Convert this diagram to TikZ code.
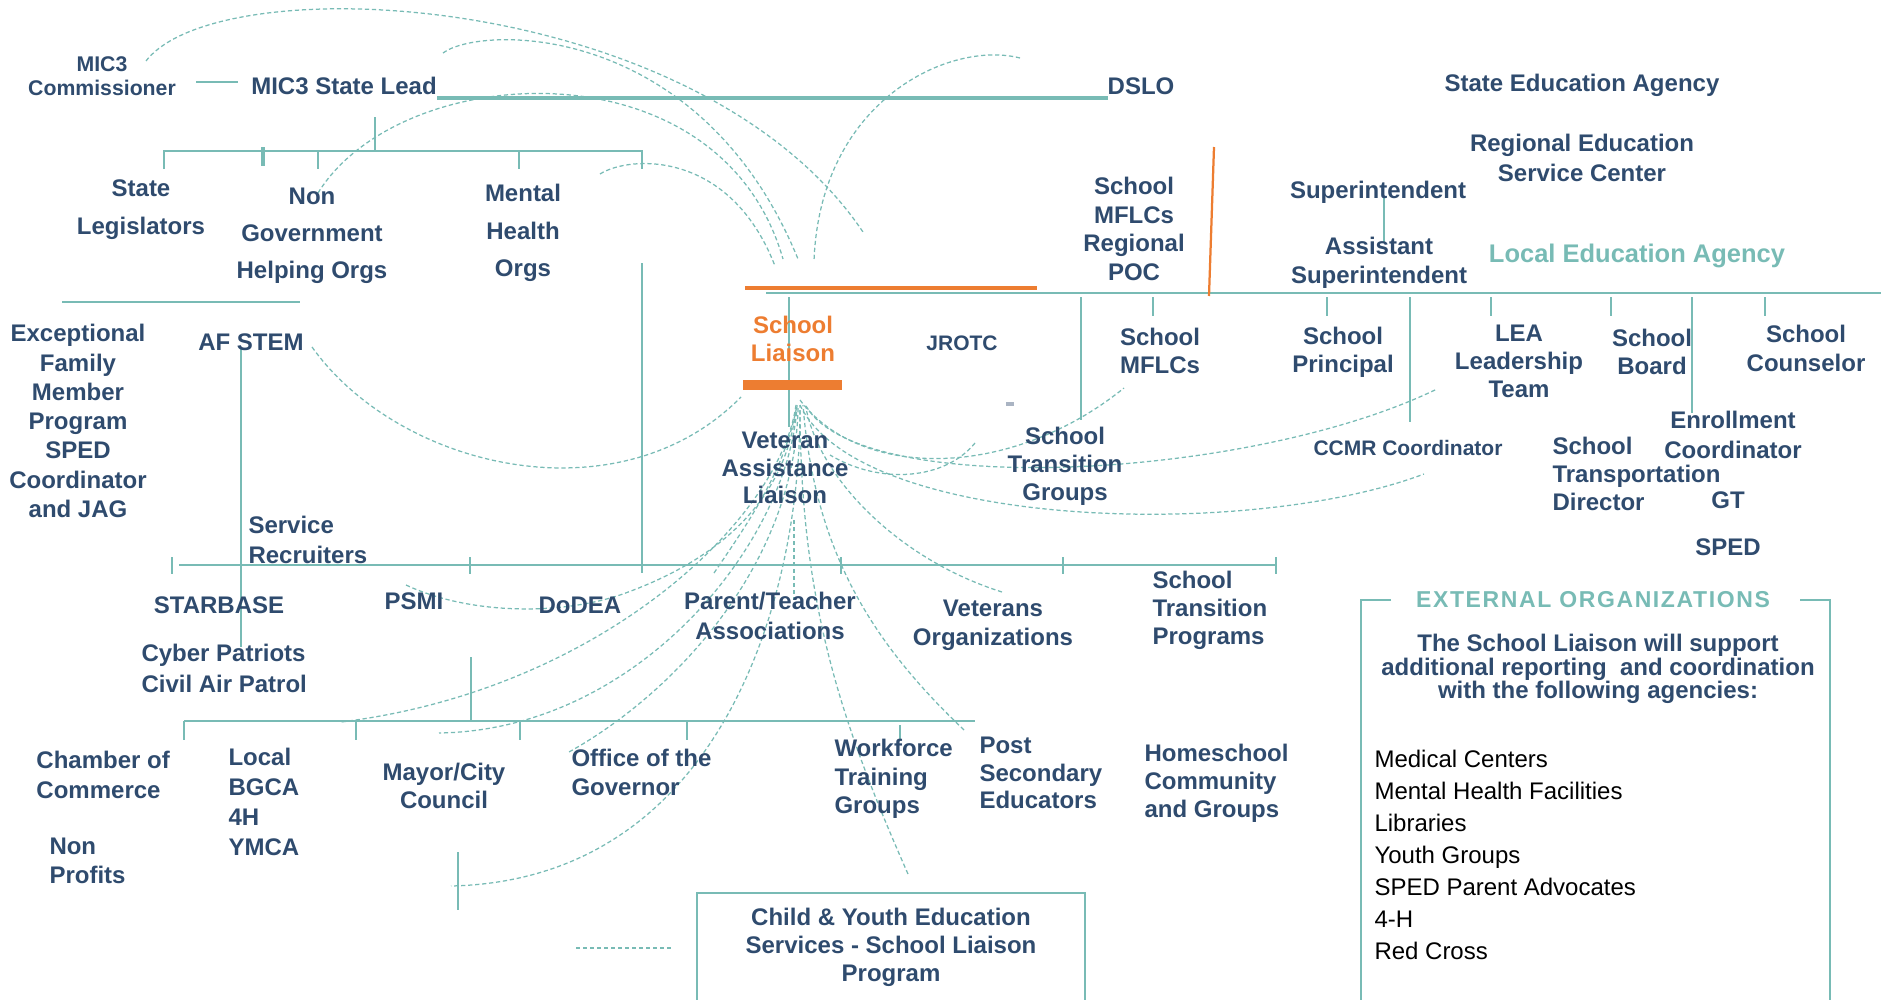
\documentclass[tikz,border=0pt]{standalone}
\usepackage{fontspec}
\setmainfont{Liberation Sans}
\definecolor{navy}{RGB}{47,75,110}
\definecolor{tealc}{RGB}{120,187,181}
\definecolor{orng}{RGB}{237,125,49}
\definecolor{greyc}{RGB}{170,180,195}
\begin{document}
\begin{tikzpicture}[x=0.4pt,y=-0.4pt,
  lbl/.style={font=\bfseries\fontsize{9.6}{#1}\selectfont, text=navy, align=center, inner sep=0pt},
  lbl/.default=11.2,
  lbll/.style={lbl=#1, align=left, anchor=west},
  lbll/.default=11.2,
  small/.style={font=\bfseries\fontsize{8.4}{10}\selectfont, text=navy, inner sep=0pt},
  ln/.style={draw=tealc, line width=0.6pt},
  dsh/.style={draw=tealc, line width=0.5pt, dash pattern=on 1.7pt off 1.1pt},
]
\useasboundingbox (0,0) rectangle (1881,1000);

% ---------- solid lines ----------
\draw[ln] (196,82) -- (238,82);
\draw[ln, line width=1.3pt] (437,98) -- (1108,98);
\draw[ln] (375,117) -- (375,151);
\draw[ln] (164,169) -- (164,151) -- (642,151) -- (642,169);
\draw[ln] (318,151) -- (318,169);
\draw[ln] (519,151) -- (519,169);
\draw[ln, line width=1.3pt] (263,147) -- (263,166);
\draw[ln] (62,302) -- (300,302);
\draw[ln] (642,263) -- (642,573);
\draw[orng, line width=1.3pt] (745,288) -- (1037,288);
\draw[ln] (766,293) -- (1881,293);
\draw[orng, line width=0.9pt] (1214,147) -- (1209,296);
\draw[ln] (789,297) -- (789,427);
\draw[ln] (1081,297) -- (1081,420);
\foreach \x in {1153,1327,1491,1611,1765} \draw[ln] (\x,297) -- (\x,316);
\draw[ln] (1410,297) -- (1410,422);
\draw[ln] (1692,297) -- (1692,413);
\draw[ln] (1384,197) -- (1384,243);
\fill[orng] (743,380) rectangle (842,390);
\draw[ln] (241,347) -- (241,647);
\draw[ln, line width=0.9pt] (179,565) -- (1276,565);
\draw[ln] (172,557) -- (172,574);
\foreach \x in {470,841,1063,1276} \draw[ln] (\x,557) -- (\x,574);
\draw[ln] (471,657) -- (471,721);
\draw[ln, line width=0.9pt] (184,721) -- (975,721);
\foreach \x in {184,356,520,687} \draw[ln] (\x,721) -- (\x,740);
\draw[ln] (900,725) -- (900,740);
\draw[ln] (458,852) -- (458,910);
\draw[dsh] (576,948) -- (674,948);
\draw[ln] (697,1000) -- (697,893) -- (1085,893) -- (1085,1000);
\draw[ln, line width=0.9pt] (1391,600) -- (1361,600) -- (1361,1000);
\draw[ln, line width=0.9pt] (1800,600) -- (1830,600) -- (1830,1000);
\fill[greyc] (1006,402) rectangle (1014,406);

% ---------- dashed curves (top) ----------
\draw[dsh] (146,61) .. controls (220,-35) and (700,-10) .. (863,232);
\draw[dsh] (443,53) .. controls (480,25) and (700,20) .. (798,259);
\draw[dsh] (318,193) .. controls (400,60) and (720,40) .. (783,259);
\draw[dsh] (600,174) .. controls (630,155) and (730,150) .. (775,266);
\draw[dsh] (1020,58) .. controls (950,40) and (820,100) .. (814,261);
% AF STEM
\draw[dsh] (312,347) .. controls (400,470) and (620,520) .. (741,397);
% right-going
\draw[dsh] (806,406) .. controls (860,500) and (1250,480) .. (1437,389);
\draw[dsh] (800,405) .. controls (860,530) and (1250,540) .. (1424,474);
\draw[dsh] (800,400) .. controls (860,480) and (1010,480) .. (1124,388);
\draw[dsh] (975,443) .. controls (945,480) and (880,485) .. (830,455);
% downward
\draw[dsh] (796,405) .. controls (780,520) and (600,690) .. (341,722);
\draw[dsh] (797,405) .. controls (790,540) and (640,730) .. (439,733);
\draw[dsh] (798,408) .. controls (795,560) and (680,690) .. (569,752);
\draw[dsh] (800,410) .. controls (800,600) and (720,880) .. (451,886);
\draw[dsh] (406,585) .. controls (470,615) and (560,615) .. (620,595)
                     .. controls (720,560) and (785,500) .. (796,410);
\draw[dsh] (714,573) .. controls (750,520) and (785,470) .. (797,405);
\draw[dsh] (908,874) .. controls (840,720) and (800,600) .. (800,405);
\draw[dsh] (964,730) .. controls (880,650) and (815,560) .. (803,405);
\draw[dsh] (1002,592) .. controls (900,560) and (820,480) .. (806,408);
\draw[dsh] (794,520) -- (794,600);

% ---------- labels ----------
\node[font=\bfseries\fontsize{8.5}{9.6}\selectfont, text=navy, align=center, inner sep=0pt] (mic3c) at (102,76) {MIC3\\Commissioner};
\node[lbl] (mic3l) at (344,86) {MIC3 State Lead};
\node[lbl] (dslo) at (1141,86) {DSLO};
\node[lbl] (sea) at (1582,85) {State Education Agency};
\node[lbl=12] (resc) at (1582,158) {Regional Education\\Service Center};
\node[lbl] (supt) at (1378,192) {Superintendent};
\node[lbl=11.6] (asst) at (1379,263) {Assistant\\Superintendent};
\node[font=\bfseries\fontsize{10.2}{12}\selectfont, text=tealc, inner sep=0pt] (lea) at (1637,256) {Local Education Agency};
\node[lbl=15.2] (stleg) at (141,210) {State\\Legislators};
\node[lbl=14.8] (ngo) at (312,236) {Non\\Government\\Helping Orgs};
\node[lbl=15] (mho) at (523,233) {Mental\\Health\\Orgs};
\node[lbl=11.5] (smrp) at (1134,229) {School\\MFLCs\\Regional\\POC};

\node[lbl, text=orng] (sl) at (793,339) {School\\Liaison};
\node[small] (jrotc) at (962,343) {JROTC};
\node[lbl] (smf) at (1160,351) {School\\MFLCs};
\node[lbl] (sp) at (1343,352) {School\\Principal};
\node[lbl] (leat) at (1519,361) {LEA\\Leadership\\Team};
\node[lbl] (sb) at (1652,352) {School\\Board};
\node[lbl=11.6] (sc) at (1806,348) {School\\Counselor};
\node[lbl=12] (enr) at (1733,435) {Enrollment\\Coordinator};
\node[small] (ccmr) at (1408,448) {CCMR Coordinator};
\node[lbll] (std) at (1552,474) {School\\Transportation\\Director};
\node[lbl] (gt) at (1728,500) {GT};
\node[lbl] (sped) at (1728,547) {SPED};
\node[lbl=11.7] (efmp) at (78,421) {Exceptional\\Family\\Member\\Program\\SPED\\Coordinator\\and JAG};
\node[lbl] (afstem) at (251,342) {AF STEM};
\node[lbll=12] (sr) at (248,540) {Service\\Recruiters};
\node[lbl=11] (val) at (785,468) {Veteran\\Assistance\\Liaison};
\node[lbl] (stg) at (1065,466) {School\\Transition\\Groups};

\node[lbl] (starbase) at (219,605) {STARBASE};
\node[lbll=12.4] (cyber) at (141,668) {Cyber Patriots\\Civil Air Patrol};
\node[lbl] (psmi) at (414,601) {PSMI};
\node[lbl] (dodea) at (580,605) {DoDEA};
\node[lbl=12] (pta) at (770,616) {Parent/Teacher\\Associations};
\node[lbl=11.6] (vo) at (993,625) {Veterans\\Organizations};
\node[lbll] (stp) at (1152,610) {School\\Transition\\Programs};
\node[lbll=12] (coc) at (36,775) {Chamber of\\Commerce};
\node[lbll=11.6] (np) at (49,861) {Non\\Profits};
\node[lbll=11.9] (local) at (228,802) {Local\\BGCA\\4H\\YMCA};
\node[lbl] (mayor) at (444,786) {Mayor/City\\Council};
\node[lbll=11.6] (gov) at (571,772) {Office of the\\Governor};
\node[lbll=11.4] (wf) at (834,779) {Workforce\\Training\\Groups};
\node[lbll=11] (post) at (979,773) {Post\\Secondary\\Educators};
\node[lbll] (home) at (1144,783) {Homeschool\\Community\\and Groups};
\node[lbl] (cyes) at (891,947) {Child \& Youth Education\\Services - School Liaison\\Program};

\node[font=\bfseries\fontsize{9.2}{11}\selectfont\addfontfeature{LetterSpace=7}, text=tealc, inner sep=0pt] (extt) at (1593,600) {EXTERNAL ORGANIZATIONS};
\node[lbl=9.4] (extp) at (1598,669) {The School Liaison will support\\additional reporting\ \ and coordination\\with the following agencies:};
\node[font=\fontsize{9.6}{12.8}\selectfont, text=black, align=left, anchor=west, inner sep=0pt] (extl) at (1374,855)
  {Medical Centers\\Mental Health Facilities\\Libraries\\Youth Groups\\SPED Parent Advocates\\4-H\\Red Cross};
\end{tikzpicture}
\end{document}
